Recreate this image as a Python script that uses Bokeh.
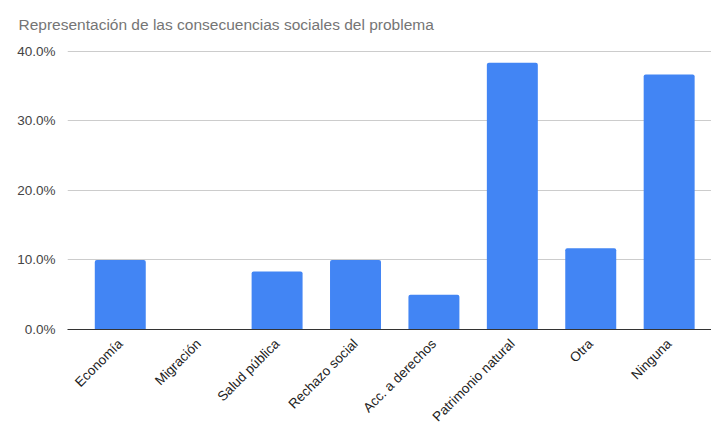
import numpy as np
from bokeh.plotting import figure
from bokeh.models import Range1d, FixedTicker, NumeralTickFormatter, ColumnDataSource
from bokeh.embed import file_html
from bokeh.resources import INLINE

categories = ["Economía", "Migración", "Salud pública", "Rechazo social",
              "Acc. a derechos", "Patrimonio natural", "Otra", "Ninguna"]
values = [0.100, 0.0, 0.0833, 0.100, 0.050, 0.3833, 0.1167, 0.3667]
y_ticks = [0.0, 0.1, 0.2, 0.3, 0.4]

xs = list(range(len(categories)))
src = ColumnDataSource(dict(x=xs, top=values, name=categories))

p = figure(width=711, height=433, output_backend="svg", toolbar_location=None,
           x_range=Range1d(-0.673, 7.54), y_range=Range1d(0, 0.4154),
           min_border_left=67, min_border_right=0, min_border_top=40,
           min_border_bottom=104)
p.outline_line_color = None
p.background_fill_color = "white"
p.border_fill_color = "white"

p.title.text = "Representación de las consecuencias sociales del problema"
p.title.text_font = "Liberation Sans"
p.title.text_font_size = "15.5px"
p.title.text_font_style = "normal"
p.title.text_color = "#757575"
p.title.align = "left"
p.title.offset = -49
p.title.standoff = 16

p.vbar(x="x", top="top", width=0.65, source=src, fill_color="#4285F4",
       line_color=None, border_radius=(2, 2, 0, 0))

p.xaxis.ticker = FixedTicker(ticks=xs)
p.xaxis.major_label_overrides = {i: c for i, c in enumerate(categories)}
p.xaxis.major_label_orientation = np.pi / 4
p.xaxis.major_tick_line_color = None
p.xaxis.minor_tick_line_color = None
p.xaxis.axis_line_color = "#333333"
p.xaxis.major_label_text_font = "Liberation Sans"
p.xaxis.major_label_text_font_size = "13.5px"
p.xaxis.major_label_text_color = "#222222"
p.xaxis.major_label_standoff = 6

p.yaxis.ticker = FixedTicker(ticks=y_ticks)
p.yaxis.formatter = NumeralTickFormatter(format="0.0%")
p.yaxis.axis_line_color = None
p.yaxis.major_tick_line_color = None
p.yaxis.minor_tick_line_color = None
p.yaxis.major_label_text_font = "Liberation Sans"
p.yaxis.major_label_text_font_size = "13.5px"
p.yaxis.major_label_text_color = "#444444"
p.yaxis.major_label_standoff = 6

p.xgrid.grid_line_color = None
p.ygrid.ticker = FixedTicker(ticks=y_ticks)
p.ygrid.grid_line_color = "#cccccc"

open("out.html", "w").write(file_html(p, INLINE))
